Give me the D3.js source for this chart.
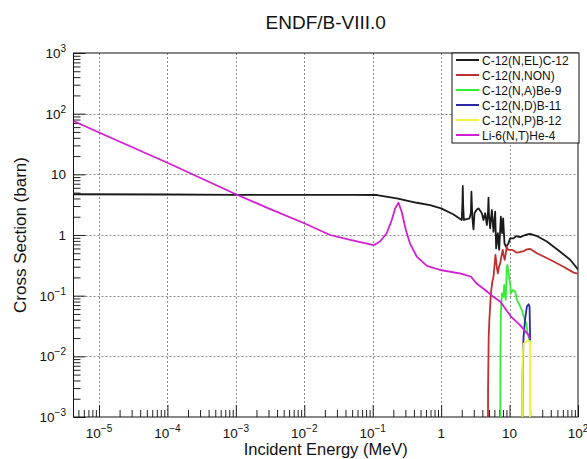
<!DOCTYPE html>
<html>
<head>
<meta charset="utf-8">
<script src="https://cdn.jsdelivr.net/npm/d3@7"></script>
<style>
  body { margin: 0; background: #fff; }
  text { font-family: "Liberation Sans", Arial, sans-serif; }
</style>
</head>
<body>
<div id="chart"></div>
<script>
// C-12(N,EL)C-12
const elasticE  = [4.24e-6, 1e-4, 1e-3, 0.01, 0.05, 0.115, 0.225, 0.44, 0.69, 1.0, 1.5, 2.0, 2.05, 2.07, 2.1, 2.15, 2.6, 2.72, 2.77, 2.85, 2.97, 3.07, 3.3, 3.51, 3.94, 4.15, 4.4, 4.66, 4.85, 4.92, 5.0, 5.2, 5.51, 5.82, 6.16, 6.37, 6.74, 7.05, 7.46, 7.79, 8.06, 8.42, 8.91, 9.64, 10.2, 11.4, 12.5, 14.3, 16.9, 20.0, 25.1, 35.1, 54.9, 76.9, 100];
const elasticXS = [4.7, 4.65, 4.6, 4.58, 4.57, 4.56, 4.03, 3.4, 3.12, 2.75, 2.2, 1.77, 3.5, 6.42, 3.0, 1.77, 1.88, 2.3, 5.17, 2.0, 1.24, 2.28, 2.6, 2.75, 2.28, 1.77, 2.28, 1.46, 2.5, 4.12, 2.2, 1.29, 2.58, 1.13, 2.42, 0.60, 1.07, 0.57, 2.0, 1.07, 1.88, 0.73, 0.64, 0.73, 0.88, 0.88, 0.96, 0.92, 1.0, 1.04, 0.96, 0.78, 0.53, 0.39, 0.27];

// C-12(N,NON) (first point is below the axis, the line runs off the bottom)
const nonE  = [4.82, 4.85, 4.95, 5.05, 5.33, 5.6, 5.82, 6.0, 6.22, 6.5, 6.74, 7.0, 7.3, 7.6, 7.96, 8.2, 8.5, 8.8, 9.1, 9.4, 9.76, 10.8, 11.5, 12.8, 14.0, 16.0, 17.9, 20.0, 25.1, 39.3, 61.3, 86.4, 100];
const nonXS = [1e-4, 0.003, 0.02, 0.037, 0.109, 0.17, 0.205, 0.3, 0.47, 0.3, 0.234, 0.3, 0.34, 0.45, 0.57, 0.45, 0.39, 0.5, 0.64, 0.58, 0.57, 0.57, 0.55, 0.51, 0.52, 0.54, 0.58, 0.59, 0.50, 0.39, 0.30, 0.24, 0.23];

// C-12(N,A)Be-9
const alphaE  = [7.28, 7.35, 7.46, 7.72, 8.13, 8.34, 8.6, 8.8, 9.1, 9.3, 9.76, 9.96, 10.2, 10.4, 11.2, 12.1, 12.8, 14.0, 15.1, 16.4, 17.5, 18.3, 19.6, 20.0];
const alphaXS = [1e-4, 0.01, 0.051, 0.109, 0.096, 0.15, 0.1, 0.085, 0.3, 0.32, 0.22, 0.18, 0.16, 0.109, 0.124, 0.116, 0.085, 0.070, 0.058, 0.042, 0.035, 0.024, 0.0186, 0.017];

// C-12(N,D)B-11
const deutE  = [15.3, 15.5, 15.8, 16.0, 16.9, 17.9, 19.0, 19.6, 20.0];
const deutXS = [1e-4, 0.005, 0.012, 0.021, 0.042, 0.066, 0.072, 0.066, 0.0186];

// C-12(N,P)B-12
const protE  = [15.3, 15.45, 15.7, 16.0, 17.0, 18.0, 19.5, 19.9, 20.0];
const protXS = [1e-4, 0.004, 0.012, 0.016, 0.017, 0.018, 0.0175, 0.017, 1e-4];

// Li-6(N,T)He-4
const tritE  = [4.24e-6, 1e-5, 1e-4, 1e-3, 3e-3, 1e-2, 0.0238, 0.047, 0.103, 0.128, 0.16, 0.19, 0.213, 0.238, 0.265, 0.305, 0.35, 0.44, 0.62, 0.97, 1.95, 2.74, 3.26, 4.4, 5.5, 7.3, 10.5, 14.1, 18.9, 20.0];
const tritXS = [75.7, 49, 15.5, 4.7, 2.75, 1.56, 1.0, 0.83, 0.68, 0.78, 1.07, 1.77, 2.75, 3.4, 2.42, 1.21, 0.73, 0.44, 0.31, 0.265, 0.23, 0.205, 0.16, 0.124, 0.10, 0.08, 0.045, 0.033, 0.0226, 0.019];

const legendLabels = ["C-12(N,EL)C-12", "C-12(N,NON)", "C-12(N,A)Be-9", "C-12(N,D)B-11", "C-12(N,P)B-12", "Li-6(N,T)He-4"];
const lineColors = ["#1a1a1a", "#c03030", "#33ee33", "#2a2aa8", "#f2f23c", "#d21fd2"];

const xMajor = [1e-5, 1e-4, 1e-3, 1e-2, 1e-1, 1, 10, 100];
const xLabels = [["10", "\u22125"], ["10", "\u22124"], ["10", "\u22123"], ["10", "\u22122"], ["10", "\u22121"], ["1", ""], ["10", ""], ["10", "2"]];
const yMajor = [1e-3, 1e-2, 1e-1, 1, 10, 100, 1000];
const yLabels = [["10", "\u22123"], ["10", "\u22122"], ["10", "\u22121"], ["1", ""], ["10", ""], ["10", "2"], ["10", "3"]];

const width = 587, height = 459;
const frame = {left: 73.5, right: 578, top: 53, bottom: 417};

const svg = d3.select("#chart")
  .append("svg")
  .attr("width", width)
  .attr("height", height);

const x = d3.scaleLog().domain([4.24e-6, 100]).range([frame.left, frame.right]);
const y = d3.scaleLog().domain([1e-3, 1e3]).range([frame.bottom, frame.top]);

// minor ticks 2..9 per decade
const xMinor = [];
for (let p = -6; p < 2; p++) for (let m = 2; m <= 9; m++) {
  const v = m * Math.pow(10, p);
  if (v > 4.24e-6 && v < 100) xMinor.push(v);
}
const yMinor = [];
for (let p = -3; p < 3; p++) for (let m = 2; m <= 9; m++) yMinor.push(m * Math.pow(10, p));

// dotted grid at major decades
const grid = svg.append("g");
grid.selectAll("line.gx")
  .data(xMajor.slice(0, -1))
  .enter().append("line")
  .attr("class", "gx")
  .attr("x1", d => Math.round(x(d)) + 0.5).attr("x2", d => Math.round(x(d)) + 0.5)
  .attr("y1", frame.top).attr("y2", frame.bottom);
grid.selectAll("line.gy")
  .data(yMajor.slice(1, -1))
  .enter().append("line")
  .attr("class", "gy")
  .attr("x1", frame.left).attr("x2", frame.right)
  .attr("y1", d => Math.round(y(d)) + 0.5).attr("y2", d => Math.round(y(d)) + 0.5);
grid.selectAll("line")
  .attr("stroke", "#8c8c8c").attr("stroke-width", 1).attr("stroke-dasharray", "2,2");

// axes (ticks inside the frame)
const xMinorAxis = svg.append("g")
  .attr("transform", `translate(0,${frame.bottom})`)
  .call(d3.axisBottom(x).tickValues(xMinor).tickSize(-7).tickFormat(""));
const xMajorAxis = svg.append("g")
  .attr("transform", `translate(0,${frame.bottom})`)
  .call(d3.axisBottom(x).tickValues(xMajor).tickSize(-12).tickFormat(""));
const yMinorAxis = svg.append("g")
  .attr("transform", `translate(${frame.left},0)`)
  .call(d3.axisLeft(y).tickValues(yMinor).tickSize(-7).tickFormat(""));
const yMajorAxis = svg.append("g")
  .attr("transform", `translate(${frame.left},0)`)
  .call(d3.axisLeft(y).tickValues(yMajor).tickSize(-12).tickFormat(""));

[xMinorAxis, xMajorAxis, yMinorAxis, yMajorAxis].forEach(a => {
  a.select(".domain").remove();
  a.selectAll(".tick line").attr("stroke", "#222");
});

// tick labels with superscripts
function writeLabel(t, pair) {
  t.append("tspan").text(pair[0]);
  if (pair[1]) t.append("tspan").attr("dy", -6).attr("font-size", 10).text(pair[1]);
}
xMajor.forEach((v, i) => {
  const t = svg.append("text")
    .attr("x", x(v)).attr("y", 438)
    .attr("text-anchor", "middle")
    .attr("font-size", 13.5).attr("fill", "#111");
  writeLabel(t, xLabels[i]);
});
yMajor.forEach((v, i) => {
  const t = svg.append("text")
    .attr("x", 66).attr("y", y(v) + 5)
    .attr("text-anchor", "end")
    .attr("font-size", 13.5).attr("fill", "#111");
  writeLabel(t, yLabels[i]);
});

// frame
svg.append("rect")
  .attr("x", frame.left).attr("y", frame.top)
  .attr("width", frame.right - frame.left).attr("height", frame.bottom - frame.top)
  .attr("fill", "none").attr("stroke", "#111").attr("stroke-width", 1);

// curves
svg.append("clipPath").attr("id", "plotclip")
  .append("rect").attr("x", frame.left).attr("y", frame.top)
  .attr("width", frame.right - frame.left).attr("height", frame.bottom - frame.top);

const series = [
  [elasticE, elasticXS], [nonE, nonXS], [alphaE, alphaXS],
  [deutE, deutXS], [protE, protXS], [tritE, tritXS]
];
const line = d3.line()
  .x(d => x(d[0]))
  .y(d => y(d[1]));

const curves = svg.append("g").attr("clip-path", "url(#plotclip)");
series.forEach((s, i) => {
  const pts = s[0].map((e, k) => [e, s[1][k]]);
  curves.append("path")
    .datum(pts)
    .attr("fill", "none")
    .attr("stroke", lineColors[i])
    .attr("stroke-width", 1.8)
    .attr("stroke-linejoin", "round")
    .attr("d", line);
});

// legend
const lg = svg.append("g");
lg.append("rect")
  .attr("x", 452).attr("y", 53).attr("width", 127).attr("height", 90)
  .attr("fill", "#fff").attr("stroke", "#111").attr("stroke-width", 1);
legendLabels.forEach((lab, i) => {
  const cy = 60 + i * 15;
  lg.append("line")
    .attr("x1", 456).attr("x2", 479)
    .attr("y1", cy).attr("y2", cy)
    .attr("stroke", lineColors[i]).attr("stroke-width", 2);
  lg.append("text")
    .attr("x", 482).attr("y", cy + 4.5)
    .attr("font-size", 12).attr("fill", "#111")
    .text(lab);
});

// titles
svg.append("text")
  .attr("x", (frame.left + frame.right) / 2).attr("y", 29)
  .attr("text-anchor", "middle")
  .attr("font-size", 19).attr("fill", "#111")
  .text("ENDF/B-VIII.0");
svg.append("text")
  .attr("x", (frame.left + frame.right) / 2).attr("y", 455)
  .attr("text-anchor", "middle")
  .attr("font-size", 16.5).attr("fill", "#111")
  .text("Incident Energy (MeV)");
svg.append("text")
  .attr("transform", `translate(26,${(frame.top + frame.bottom) / 2}) rotate(-90)`)
  .attr("text-anchor", "middle")
  .attr("font-size", 17).attr("fill", "#111")
  .text("Cross Section (barn)");
</script>
</body>
</html>
